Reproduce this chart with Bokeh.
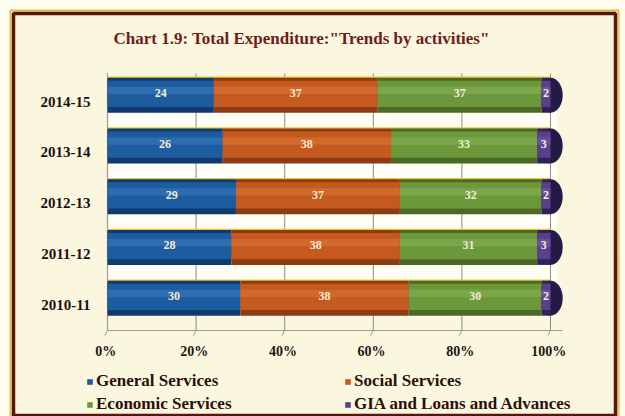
import numpy as np
from bokeh.plotting import figure
from bokeh.models import (Range1d, Legend, LegendItem, BoxAnnotation, Label)
from bokeh.core.properties import value
from bokeh.embed import file_html
from bokeh.resources import INLINE

# ---------------- data ----------------
years = ["2010-11", "2011-12", "2012-13", "2013-14", "2014-15"]
series_names = ["General Services", "Social Services", "Economic Services",
                "GIA and Loans and Advances"]
general = [30, 28, 29, 26, 24]
social = [38, 38, 37, 38, 37]
economic = [30, 31, 32, 33, 37]
gia = [2, 3, 2, 3, 2]
tick_values = [0, 20, 40, 60, 80, 100]
tick_labels = ["0%", "20%", "40%", "60%", "80%", "100%"]
title_text = 'Chart 1.9: Total Expenditure:"Trends by activities"'

# ---------------- style ----------------
W, H = 625, 416
BG = "#fbf7df"
OUTER = "#fdfbee"
FONT = "Liberation Serif"
main_c = ["#1d5c9e", "#c45a1e", "#6c983c", "#5a3f8c"]
dark_c = ["#0f3a70", "#8e3a12", "#4a6a26", "#2e2158"]
light_c = ["#3a7cc0", "#dc7838", "#88b255", "#7a5cae"]

# pixel geometry of the plotting area (0% .. 100%, category spacing)
X0_PX, X100_PX = 107, 550
PX_PER_X = (X100_PX - X0_PX) / 100.0
Y_FIRST_PX, ROW_PX = 304, 50.75     # centre of first category, spacing

x_range = Range1d(-X0_PX / PX_PER_X, (W - X0_PX) / PX_PER_X)
y_range = Range1d(-(H - Y_FIRST_PX) / ROW_PX, Y_FIRST_PX / ROW_PX)

p = figure(width=W, height=H, x_range=x_range, y_range=y_range,
           x_axis_type=None, y_axis_type=None,
           output_backend="svg", toolbar_location=None, min_border=0,
           background_fill_color=OUTER, border_fill_color=OUTER,
           outline_line_color=None)
p.xgrid.visible = False
p.ygrid.visible = False

def py(px):   # pixel row (from top) -> y data
    return (Y_FIRST_PX - px) / ROW_PX

def px_x(px):
    return (px - X0_PX) / PX_PER_X

def screen_box(l, r, t, b, **kw):
    return BoxAnnotation(left=l, right=r, top=H - t, bottom=H - b,
                         left_units="screen", right_units="screen",
                         top_units="screen", bottom_units="screen", **kw)

# inner panel background
p.add_layout(screen_box(13, 615, 13, 415, fill_color=BG, fill_alpha=1,
                        line_color=None, level="image"))

ypos = np.arange(len(years), dtype=float)
series = [general, social, economic, gia]
totals = np.sum(np.array(series), axis=0)
bar_off = 0.125
bar_h = 0.69

# light bands between the bars (3-D back wall)
p.hbar(y=ypos[:-1] + 0.625, left=0, right=totals[:-1] + 1.5, height=0.31,
       fill_color="#fffef6", line_color=None)

# gridlines and axis lines
axis_bottom = py(330)
axis_top = py(73)
n_t = len(tick_values)
p.segment(x0=tick_values, x1=tick_values, y0=[axis_bottom] * n_t,
          y1=[axis_top] * n_t, line_color="#8c8c80", line_width=1)
p.segment(x0=[0], x1=[px_x(562)], y0=[axis_bottom], y1=[axis_bottom],
          line_color="#9a9a9a", line_width=1.2)
p.segment(x0=[0], x1=[0], y0=[axis_bottom], y1=[axis_top],
          line_color="#9a9a9a", line_width=1.2)
p.segment(x0=tick_values, x1=list(np.array(tick_values) - 0.6),
          y0=[axis_bottom] * n_t, y1=[py(335)] * n_t,
          line_color="#9a9a9a", line_width=1)

# yellow highlight line above bars and end caps
p.hbar(y=ypos + 0.47, left=0, right=totals, height=0.045,
       fill_color="#e8c832", line_color=None)
p.ellipse(x=totals, y=ypos + bar_off, width=5.5, height=bar_h,
          fill_color="#241a46", line_color=None)

legend_renderers = []
cum = np.zeros(len(years))
for i, vals in enumerate(series):
    vals = np.array(vals, dtype=float)
    left = cum.copy()
    right = cum + vals
    cum = right
    p.hbar(y=ypos + bar_off, left=left, right=right, height=bar_h,
           fill_color=dark_c[i], line_color=None)
    r = p.hbar(y=ypos + bar_off + 0.025, left=left, right=right, height=0.52,
               fill_color=main_c[i], line_color=None)
    legend_renderers.append(r)
    p.hbar(y=ypos + bar_off + 0.095, left=left, right=right, height=0.14,
           fill_color=light_c[i], fill_alpha=0.55, line_color=None)
    p.text(x=(left + right) / 2, y=ypos + bar_off + 0.04,
           text=[str(int(v)) for v in vals],
           text_font=value(FONT), text_font_style="bold",
           text_font_size="12px", text_color="#f4ecd4", text_align="center",
           text_baseline="middle")

# category labels (y axis)
p.text(x=[px_x(90)] * len(years), y=ypos, text=years,
       text_font=value(FONT), text_font_style="bold", text_font_size="15px",
       text_color="#1a1010", text_align="right", text_baseline="middle")

# tick labels (x axis)
p.text(x=list(np.array(tick_values) - 0.4), y=[py(351)] * n_t,
       text=tick_labels, text_font=value(FONT), text_font_style="bold",
       text_font_size="14px", text_color="#1e1414", text_align="center",
       text_baseline="middle")

# title
p.add_layout(Label(x=113, y=H - 38, x_units="screen", y_units="screen",
                   text=title_text, text_font=FONT, text_font_style="bold",
                   text_font_size="17px", text_color="#6e1c1c",
                   text_baseline="middle"))

# border lines
p.add_layout(screen_box(10, 618, 10, 418, fill_alpha=0, line_color="#e2c23a",
                        line_alpha=1, line_width=2))
p.add_layout(screen_box(13, 615, 13, 415, fill_alpha=0, line_color="#5a1410",
                        line_alpha=1, line_width=3.5))

# ---------------- legend ----------------
order = [0, 2, 1, 3]
items = [LegendItem(label=series_names[k], renderers=[legend_renderers[k]]) for k in order]
legend = Legend(items=items, ncols=2, location=(86, 2),
                background_fill_alpha=0, border_line_color=None,
                padding=0, margin=0, spacing=3, glyph_width=7, glyph_height=7,
                label_height=20, label_width=245, label_standoff=3,
                label_text_font=FONT, label_text_font_style="bold",
                label_text_font_size="17px", label_text_color="#2a0f0a",
                label_text_baseline="middle")
p.add_layout(legend, "center")

open("out.html", "w").write(file_html(p, INLINE))
